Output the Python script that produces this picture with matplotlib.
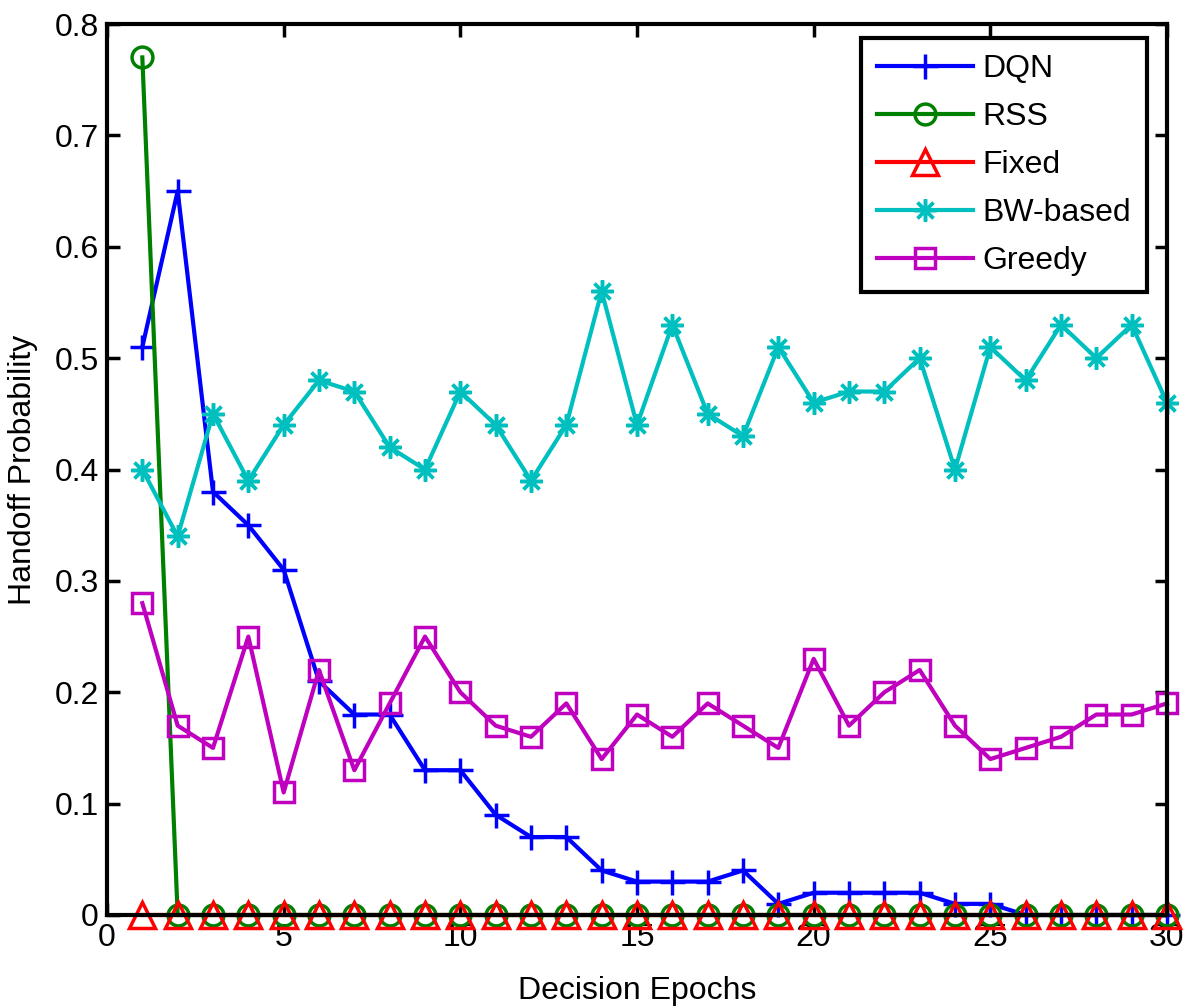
import matplotlib
matplotlib.use("Agg")
import matplotlib.pyplot as plt

plt.rcParams['font.family'] = ['Liberation Sans', 'DejaVu Sans']

epochs = list(range(1, 31))
dqn = [0.51, 0.65, 0.38, 0.35, 0.31, 0.21, 0.18, 0.18, 0.13, 0.13,
       0.09, 0.07, 0.07, 0.04, 0.03, 0.03, 0.03, 0.04, 0.01, 0.02,
       0.02, 0.02, 0.02, 0.01, 0.01, 0.0, 0.0, 0.0, 0.0, 0.0]
rss = [0.77] + [0.0] * 29
fixed = [0.0] * 30
bw = [0.40, 0.34, 0.45, 0.39, 0.44, 0.48, 0.47, 0.42, 0.40, 0.47,
      0.44, 0.39, 0.44, 0.56, 0.44, 0.53, 0.45, 0.43, 0.51, 0.46,
      0.47, 0.47, 0.50, 0.40, 0.51, 0.48, 0.53, 0.50, 0.53, 0.46]
greedy = [0.28, 0.17, 0.15, 0.25, 0.11, 0.22, 0.13, 0.19, 0.25, 0.20,
          0.17, 0.16, 0.19, 0.14, 0.18, 0.16, 0.19, 0.17, 0.15, 0.23,
          0.17, 0.20, 0.22, 0.17, 0.14, 0.15, 0.16, 0.18, 0.18, 0.19]
names = ['DQN', 'RSS', 'Fixed', 'BW-based', 'Greedy']
xticks = [0, 5, 10, 15, 20, 25, 30]
yticks = [0, 0.1, 0.2, 0.3, 0.4, 0.5, 0.6, 0.7, 0.8]

fig = plt.figure(figsize=(11.85, 10.08), dpi=100)
ax = fig.add_axes([107/1185, 93/1008, (1167-107)/1185, (915-24)/1008])

lw = 3.0
mew = 2.5
styles = [
    (dqn, (0, 0, 1), '+', 18),
    (rss, (0, 0.5, 0), 'o', 15),
    (fixed, (1, 0, 0), '^', 19),
    (bw, (0, 0.75, 0.75), (8, 2, 0), 16),
    (greedy, (0.75, 0, 0.75), 's', 15),
]
for (vals, col, mk, ms), nm in zip(styles, names):
    ax.plot(epochs, vals, color=col, lw=lw, marker=mk, ms=ms, mew=mew,
            mfc='none', mec=col, label=nm, clip_on=False)

fs = 23
ax.set_xlim(0, 30)
ax.set_ylim(0, 0.8)
ax.set_xticks(xticks)
ax.set_xticklabels([str(v) for v in xticks])
ax.set_yticks(yticks)
ax.set_yticklabels(['0'] + ['%.1f' % v for v in yticks[1:]])
ax.tick_params(direction='in', length=9, width=2.5, labelsize=fs,
               top=True, right=True, pad=6)
for sp in ax.spines.values():
    sp.set_linewidth(3)
ax.set_xlabel('Decision Epochs', fontsize=fs, labelpad=16)
ax.set_ylabel('Handoff Probability', fontsize=fs, labelpad=12)

leg = ax.legend(loc='upper right', bbox_to_anchor=(0.981, 0.984),
                fontsize=fs, handlelength=3.0,
                handletextpad=0.3, labelspacing=0.56, borderpad=0.5,
                borderaxespad=0.0, fancybox=False, framealpha=1,
                edgecolor='black')
leg.get_frame().set_linewidth(3)

fig.savefig('out.png', dpi=100)
